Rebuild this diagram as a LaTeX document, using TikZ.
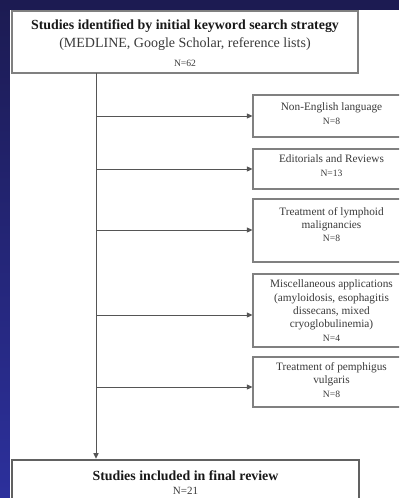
\documentclass[tikz,border=0pt]{standalone}
\usepackage{fontspec}
\setmainfont{Liberation Serif}
\usetikzlibrary{arrows.meta}
\definecolor{navy}{HTML}{1C1B52}
\definecolor{navyb}{HTML}{2C309C}
\definecolor{boxline}{HTML}{808080}
\definecolor{connline}{HTML}{555555}
\definecolor{txt}{HTML}{3A3A3A}
\newcommand\ntsz{\fontsize{9.6}{11}\selectfont}
\tikzset{
  boxshape/.style={draw=boxline, line width=1.2pt, fill=white, rectangle, inner sep=0pt},
  sidebox/.style={boxshape, minimum width=157pt},
  boxtext/.style={align=center, inner sep=0pt, text=txt, font=\fontsize{11.3}{13.4}\selectfont},
  boldtext/.style={inner sep=0pt, text=black!90, font=\fontsize{13.9}{16}\selectfont\bfseries},
  plaintext/.style={inner sep=0pt, text=txt},
  conn/.style={draw=connline, line width=1pt},
  arr/.style={conn, -{Triangle[length=5.5pt,width=5pt]}},
}
\begin{document}
\begin{tikzpicture}[x=1pt,y=-1pt]
\useasboundingbox (0,0) rectangle (399,498);
\fill[navy] (0,0) rectangle (399,498);
\shade[top color=navy, bottom color=navyb] (0,0) rectangle (10,498);
\fill[white] (10,10) rectangle (399,498);
\begin{scope}
\clip (10,10) rectangle (399,498);
% top box
\node[boxshape, minimum width=346pt, minimum height=62pt] (b0) at (185,42) {};
\node[boldtext] (t0a) at (185,26.5) {Studies identified by initial keyword search strategy};
\node[plaintext, font=\fontsize{14}{17}\selectfont] (t0b) at (185,44) {(MEDLINE, Google Scholar, reference lists)};
\node[plaintext, font=\fontsize{9.6}{11}\selectfont] (t0c) at (185,63.5) {N=62};
% side boxes
\node[sidebox, minimum height=42pt] (b1) at (331.5,116) {};
\node[boxtext] (t1) at (331.5,113.5) {Non-English language\\{\ntsz N=8}};
\node[sidebox, minimum height=40pt] (b2) at (331.5,169) {};
\node[boxtext] (t2) at (331.5,165.5) {Editorials and Reviews\\{\ntsz N=13}};
\node[sidebox, minimum height=63pt] (b3) at (331.5,230.5) {};
\node[boxtext] (t3) at (331.5,224.5) {Treatment of lymphoid\\malignancies\\{\ntsz N=8}};
\node[sidebox, minimum height=73pt] (b4) at (331.5,310.5) {};
\node[boxtext] (t4) at (331.5,310.5) {Miscellaneous applications\\(amyloidosis, esophagitis\\dissecans, mixed\\cryoglobulinemia)\\{\ntsz N=4}};
\node[sidebox, minimum height=50pt] (b5) at (331.5,382) {};
\node[boxtext] (t5) at (331.5,380) {Treatment of pemphigus\\vulgaris\\{\ntsz N=8}};
% final box
\node[draw=black!62, line width=2.6pt, fill=white, rectangle, inner sep=0pt,
      minimum width=347pt, minimum height=70pt] (bf) at (185.5,495) {};
\node[boldtext] (tfa) at (185.5,476) {Studies included in final review};
\node[plaintext, font=\fontsize{11}{12}\selectfont] (tfb) at (185.5,490.5) {N=21};
% connectors
\coordinate (top) at (96,73);
\coordinate (j1) at (96,116);
\coordinate (j2) at (96,169);
\coordinate (j3) at (96,230);
\coordinate (j4) at (96,315);
\coordinate (j5) at (96,387);
\draw[arr] (top) -- (top |- bf.north);
\draw[arr] (j1) -- (j1 -| b1.west);
\draw[arr] (j2) -- (j2 -| b2.west);
\draw[arr] (j3) -- (j3 -| b3.west);
\draw[arr] (j4) -- (j4 -| b4.west);
\draw[arr] (j5) -- (j5 -| b5.west);
\end{scope}
\end{tikzpicture}
\end{document}
